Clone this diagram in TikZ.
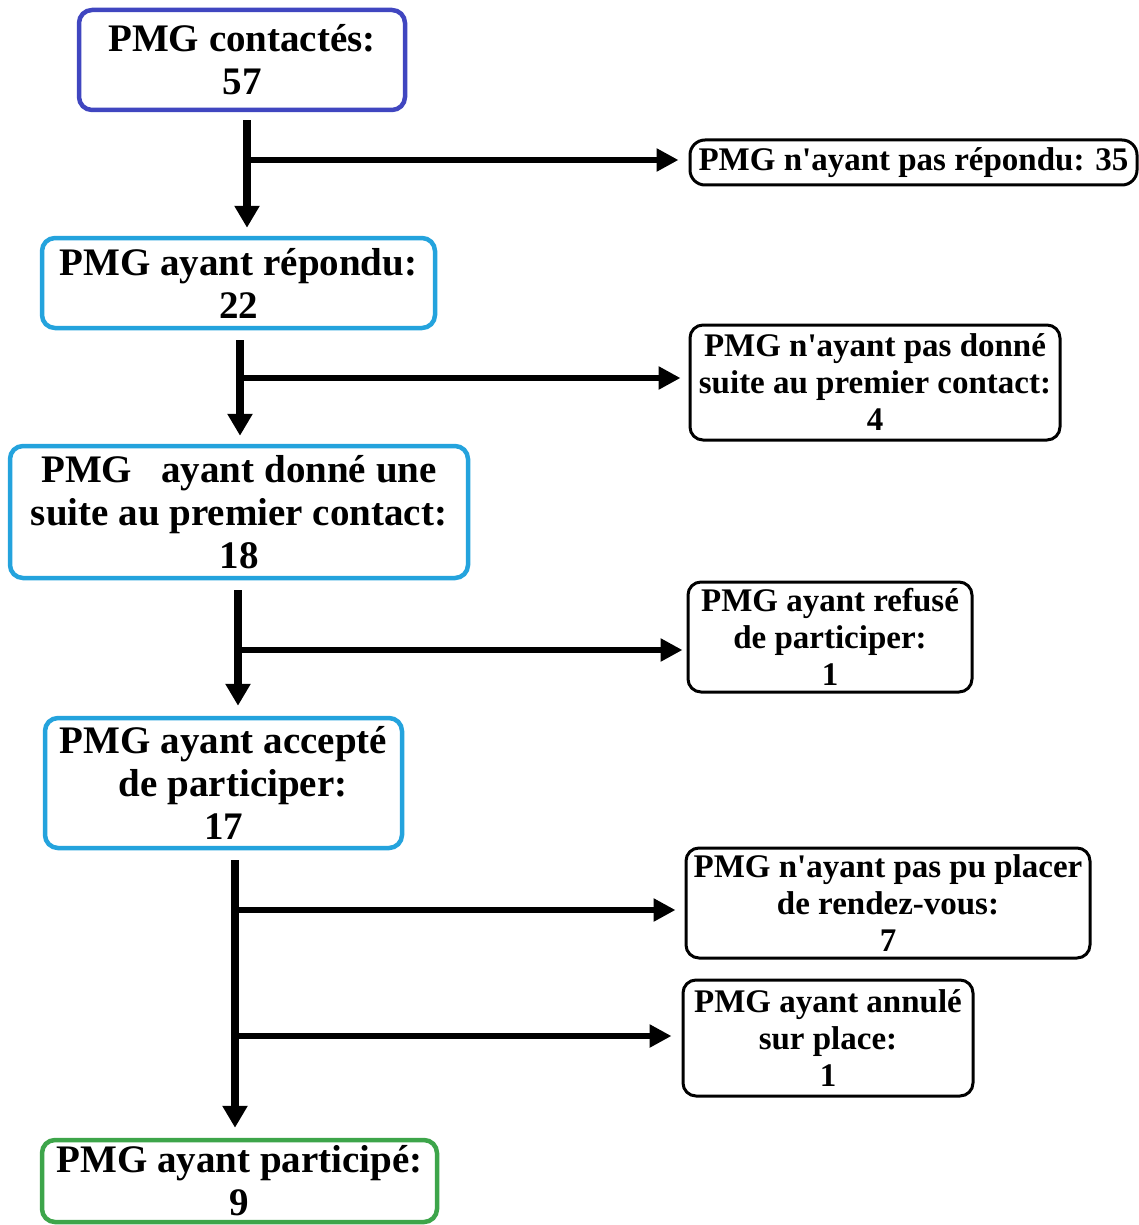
\documentclass[tikz,border=0pt]{standalone}
\usepackage{fontspec}
\setmainfont{Liberation Serif}
\usetikzlibrary{arrows.meta,calc}
\definecolor{cpurple}{RGB}{64,70,192}
\definecolor{cblue}{RGB}{36,163,221}
\definecolor{cgreen}{RGB}{61,165,74}
\newcommand{\apo}{\textquotesingle}
\tikzset{
  mainbox/.style={draw, line width=4.5pt, rounded corners=13pt, fill=white, align=center, inner sep=0pt,
    font=\bfseries\fontsize{39}{43}\selectfont},
  sidebox/.style={draw=black, line width=3pt, rounded corners=13pt, fill=white, align=center, inner sep=0pt,
    font=\bfseries\fontsize{33}{37}\selectfont},
  vline/.style={line width=8pt, -{Triangle[width=24pt,length=22pt]}},
  hline/.style={line width=6.5pt, -{Triangle[width=22pt,length=22pt]}},
}
\begin{document}
\begin{tikzpicture}[x=1pt,y=-1pt]
\useasboundingbox (0,0) rectangle (1139,1225);
% main boxes
\node[mainbox, draw=cpurple, minimum width=326pt, minimum height=100pt] (b1) at (242,60) {PMG contactés:\\57};
\node[mainbox, draw=cblue, minimum width=393pt, minimum height=90pt] (b2) at (238.5,283) {PMG ayant répondu:\\22};
\node[mainbox, draw=cblue, minimum width=458pt, minimum height=132pt] (b3) at (239,512) {PMG\ \ \ ayant donné une\\suite au premier contact:\\18};
\node[mainbox, draw=cblue, minimum width=357pt, minimum height=130pt] (b4) at (223.5,783) {PMG ayant accepté\\\ \ de participer:\\17};
\node[mainbox, draw=cgreen, minimum width=395pt, minimum height=82pt] (b5) at (239.5,1181) {PMG ayant participé:\\9};
% side boxes
\node[sidebox, minimum width=447pt, minimum height=45pt, rounded corners=15pt] (s1) at (913.5,162.5) {PMG n\apo ayant pas répondu: 35};
\node[sidebox, minimum width=370pt, minimum height=115pt] (s2) at (875,382.5) {PMG n\apo ayant pas donné\\suite au premier contact:\\4};
\node[sidebox, minimum width=284pt, minimum height=110pt] (s3) at (830,637) {PMG ayant refusé\\de participer:\\1};
\node[sidebox, minimum width=404pt, minimum height=110pt] (s4) at (888,903) {PMG n\apo ayant pas pu placer\\de rendez-vous:\\7};
\node[sidebox, minimum width=290pt, minimum height=116pt] (s5) at (828,1038) {PMG ayant annulé\\sur place:\\1};
% junctions
\coordinate (j1) at (247,160);
\coordinate (j2) at (240,378);
\coordinate (j3) at (238,650);
\coordinate (j4a) at (235,910);
\coordinate (j4b) at (235,1036);
% connectors
\draw[vline, shorten <=8pt, shorten >=8pt] (b1.south -| j1) -- (b2.north -| j1);
\draw[hline, shorten >=10pt] (j1) -- (j1 -| s1.west);
\draw[vline, shorten <=10pt, shorten >=8pt] (b2.south -| j2) -- (b3.north -| j2);
\draw[hline, shorten >=8pt] (j2) -- (j2 -| s2.west);
\draw[vline, shorten <=10pt, shorten >=10pt] (b3.south -| j3) -- (b4.north -| j3);
\draw[hline, shorten >=4pt] (j3) -- (j3 -| s3.west);
\draw[vline, shorten <=10pt, shorten >=10pt] (b4.south -| j4a) -- (b5.north -| j4a);
\draw[hline, shorten >=9pt] (j4a) -- (j4a -| s4.west);
\draw[hline, shorten >=10pt] (j4b) -- (j4b -| s5.west);
\end{tikzpicture}
\end{document}
